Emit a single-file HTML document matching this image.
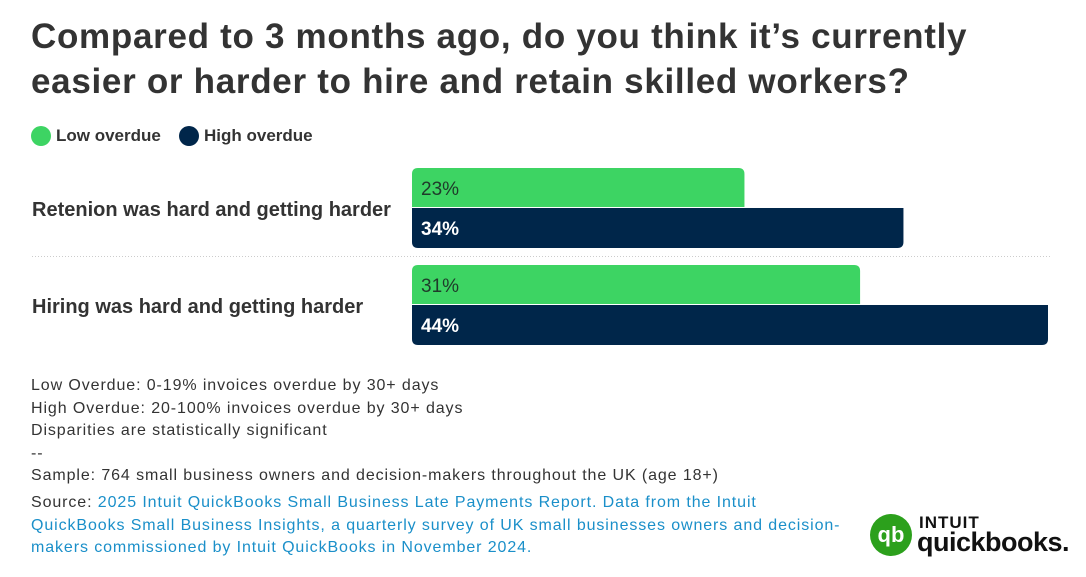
<!DOCTYPE html>
<html><head><meta charset="utf-8"><style>
body{margin:0;width:1086px;height:577px;background:#fff;font-family:"Liberation Sans",sans-serif;color:#333;overflow:hidden;position:relative}
.t{position:absolute;left:31px;top:14px;font-size:35px;font-weight:bold;line-height:45px;color:#333;letter-spacing:0.7px}
.leg{position:absolute;top:126px;font-size:17px;font-weight:bold;color:#333;display:flex;align-items:center}
.dot{width:20px;height:20px;border-radius:50%;display:inline-block;margin-right:5px}
.foot{position:absolute;left:31px;font-size:16px;letter-spacing:0.9px;line-height:22.5px;color:#333}
a{color:#1a8fc9;text-decoration:none}
</style></head><body>
<div class="t">Compared to 3 months ago, do you think it’s currently<br>easier or harder to hire and retain skilled workers?</div>
<div class="leg" style="left:31px"><span class="dot" style="background:#3dd463"></span>Low overdue</div>
<div class="leg" style="left:179px"><span class="dot" style="background:#00264a"></span>High overdue</div>
<svg id="chart" width="1086" height="577" style="position:absolute;left:0;top:0"></svg>
<div class="foot" style="top:375px">Low Overdue: 0-19% invoices overdue by 30+ days<br>High Overdue: 20-100% invoices overdue by 30+ days<br>Disparities are statistically significant<br>--<br>Sample: 764 small business owners and decision-makers throughout the UK (age 18+)</div>
<div class="foot" style="top:492px;width:825px">Source: <a>2025 Intuit QuickBooks Small Business Late Payments Report. Data from the Intuit QuickBooks Small Business Insights, a quarterly survey of UK small businesses owners and decision-makers commissioned by Intuit QuickBooks in November 2024.</a></div>
<div style="position:absolute;left:869px;top:513px;width:190px;height:45px">
<svg width="44" height="44" style="position:absolute;left:0;top:0"><circle cx="22" cy="22" r="21" fill="#2ca01c"/><text x="22" y="29" fill="#fff" font-size="22" font-weight="bold" text-anchor="middle" font-family="Liberation Sans">qb</text></svg>
<div style="position:absolute;left:50px;top:0;font-size:17px;font-weight:bold;color:#111;letter-spacing:1px">INTUIT</div>
<div style="position:absolute;left:48px;top:14px;font-size:27px;font-weight:bold;color:#111;letter-spacing:-0.5px">quickbooks.</div>
</div>
<script>
const categories=["Retenion was hard and getting harder","Hiring was hard and getting harder"];
const lowValues=[23,31];
const highValues=[34,44];
const svg=document.getElementById('chart');
const NS='http://www.w3.org/2000/svg';
const x0=412,pxPer=636/44;
const xScale=v=>v*pxPer;
const groupTop=i=>168+i*97;
function barPath(x,y,w,h,top){const r=6;
 if(top)return `M${x},${y+h}V${y+r}Q${x},${y} ${x+r},${y}H${x+w-r}Q${x+w},${y} ${x+w},${y+r}V${y+h}Z`;
 return `M${x},${y}H${x+w}V${y+h-r}Q${x+w},${y+h} ${x+w-r},${y+h}H${x+r}Q${x},${y+h} ${x},${y+h-r}Z`;}
categories.forEach((c,i)=>{
 const y=groupTop(i);
 const lab=document.createElementNS(NS,'text');
 
 
 lab.setAttribute('x',32);lab.setAttribute('y',y+48);lab.setAttribute('font-size','20');lab.setAttribute('font-weight','bold');lab.setAttribute('fill','#333');lab.setAttribute('font-family','Liberation Sans');
 lab.textContent=c;svg.appendChild(lab);
 [[lowValues[i],'#3dd463','#1f3a2a',true,'normal','bar-low'],[highValues[i],'#00264a','#fff',false,'bold','bar-high']].forEach((d,j)=>{
  const by=y+j*40;
  const p=document.createElementNS(NS,'path');
  
  
  p.setAttribute('d',barPath(x0,by,xScale(d[0]),j?40:39,d[3]));p.setAttribute('fill',d[1]);svg.appendChild(p);
  const t=document.createElementNS(NS,'text');
  
  
  t.setAttribute('x',421);t.setAttribute('y',by+27);t.setAttribute('font-size','19');t.setAttribute('fill',d[2]);t.setAttribute('font-weight',d[4]);t.setAttribute('font-family','Liberation Sans');
  t.textContent=d[0]+'%';svg.appendChild(t);
 });
 if(i<categories.length-1){
  const l=document.createElementNS(NS,'line');
  
  
  l.setAttribute('x1',32);l.setAttribute('x2',1050);l.setAttribute('y1',y+88.5);l.setAttribute('y2',y+88.5);
  l.setAttribute('stroke','#ccc');l.setAttribute('stroke-dasharray','1,2');svg.appendChild(l);
 }
});
</script>
</body></html>
